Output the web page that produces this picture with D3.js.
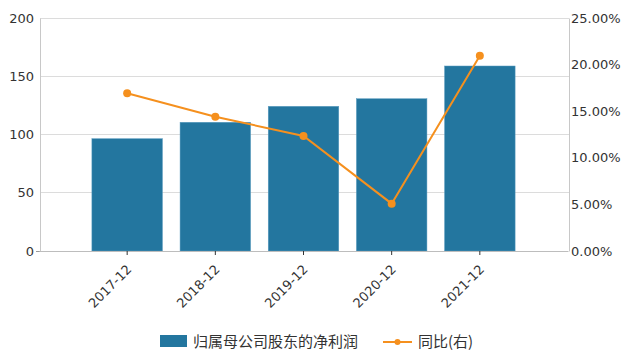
<!DOCTYPE html>
<html><head><meta charset="utf-8">
<script src="https://cdn.jsdelivr.net/npm/d3@7"></script>
<style>body{margin:0;background:#fff}svg{display:block}</style>
</head><body>
<svg id="c" width="630" height="362"></svg>
<script>
const categories = ["2017-12","2018-12","2019-12","2020-12","2021-12"];
const profit = [96.4, 110.5, 124.2, 130.7, 158.8];
const yoy = [16.92, 14.41, 12.34, 5.08, 20.96];
const leftTicks = [0, 50, 100, 150, 200];
const rightTicks = [0, 5, 10, 15, 20, 25];
const seriesNames = ["归属母公司股东的净利润", "同比(右)"];

const barColor = "#23769F", lineColor = "#F5901E";
const svg = d3.select("#c");
const L = 40, R = 569, T = 18, B = 251;

const x = d3.scaleBand().domain(categories).range([L - 1, R - 1]).paddingInner(0.2).paddingOuter(0.6);
const yL = d3.scaleLinear().domain([0, 200]).range([B, T]);
const yR = d3.scaleLinear().domain([0, 25]).range([B, T]);

// gridlines
svg.append("g").selectAll("line").data(leftTicks.slice(1)).join("line")
  .attr("x1", L).attr("x2", R).attr("y1", d => yL(d)).attr("y2", d => yL(d))
  .attr("stroke", "#dcdcdc").attr("stroke-width", 1).attr("shape-rendering", "crispEdges");

// bars
svg.append("g").selectAll("rect").data(profit).join("rect")
  .attr("x", (d, i) => x(categories[i])).attr("width", x.bandwidth())
  .attr("y", d => yL(d)).attr("height", d => B - yL(d))
  .attr("fill", barColor).attr("stroke", "#5a9cc0").attr("stroke-width", 0.5);

// axes
const font = "DejaVu Sans, Verdana, sans-serif";
const gl = svg.append("g").attr("transform", `translate(${L},0)`)
  .call(d3.axisLeft(yL).tickValues(leftTicks).tickSize(0).tickPadding(6).tickFormat(d3.format("d")));
gl.select(".domain").attr("stroke", "#c8c8c8");
gl.selectAll("text").attr("font-family", font).attr("font-size", 13).attr("fill", "#333");
svg.append("line").attr("x1", L - 4).attr("x2", L).attr("y1", B + 0.5).attr("y2", B + 0.5).attr("stroke", "#999");

const gr = svg.append("g").attr("transform", `translate(${R},0)`)
  .call(d3.axisRight(yR).tickValues(rightTicks).tickSize(0).tickPadding(2).tickFormat(d => d3.format(".2f")(d) + "%"));
gr.select(".domain").attr("stroke", "#c8c8c8");
gr.selectAll("text").attr("font-family", font).attr("font-size", 13).attr("fill", "#333");

const gb = svg.append("g").attr("transform", `translate(0,${B})`)
  .call(d3.axisBottom(x).tickSize(4).tickSizeOuter(0));
gb.select(".domain").attr("stroke", "#bdbdbd");
gb.selectAll(".tick line").attr("stroke", "#333");
gb.selectAll("text").attr("font-family", font).attr("font-size", 13).attr("fill", "#333")
  .attr("text-anchor", "end").attr("y", 0).attr("dy", "0.35em")
  .attr("transform", "translate(2,16) rotate(-45)");

// line
const cx = (d, i) => x(categories[i]) + x.bandwidth() / 2;
svg.append("path").datum(yoy)
  .attr("d", d3.line().x(cx).y(d => yR(d)))
  .attr("fill", "none").attr("stroke", lineColor).attr("stroke-width", 2);
svg.append("g").selectAll("circle").data(yoy).join("circle")
  .attr("cx", cx).attr("cy", d => yR(d)).attr("r", 4).attr("fill", lineColor);

// legend
const lg = svg.append("g");
lg.append("rect").attr("x", 160).attr("y", 335).attr("width", 27).attr("height", 12).attr("fill", barColor);
lg.append("text").attr("x", 193).attr("y", 346.5).text(seriesNames[0])
  .attr("font-family", "Noto Sans CJK SC, sans-serif").attr("font-size", 15).attr("fill", "#333");
lg.append("line").attr("x1", 383).attr("x2", 412).attr("y1", 342).attr("y2", 342).attr("stroke", lineColor).attr("stroke-width", 2);
lg.append("circle").attr("cx", 397.5).attr("cy", 342).attr("r", 3).attr("fill", lineColor);
lg.append("text").attr("x", 418).attr("y", 346.5).text(seriesNames[1])
  .attr("font-family", "Noto Sans CJK SC, sans-serif").attr("font-size", 15).attr("fill", "#333");
</script>
</body></html>
